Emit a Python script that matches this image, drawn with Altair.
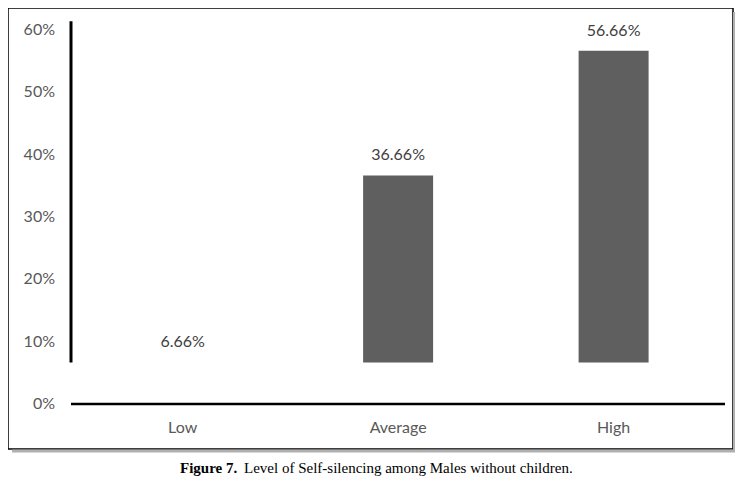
import altair as alt
import pandas as pd

categories = ["Low", "Average", "High"]
positions = [0, 1, 2]
values = [0.0666, 0.3666, 0.5666]
value_labels = ["6.66%", "36.66%", "56.66%"]
tick_values = [0.0, 0.1, 0.2, 0.3, 0.4, 0.5, 0.6]
tick_labels = ["0%", "10%", "20%", "30%", "40%", "50%", "60%"]
baseline = 0.0666
axis_top = 0.614
caption_bold = "Figure 7."
caption_text = "Level of Self-silencing among Males without children."

bars = pd.DataFrame({"cat": categories, "pos": positions, "value": values,
                     "label": value_labels, "base": [baseline] * len(categories)})
ticks = pd.DataFrame({"v": tick_values, "t": tick_labels})

FONT = "Lato"
W, H = 725, 441
xscale = alt.Scale(domain=[-0.7872, 2.5309], nice=False, zero=False)
yscale = alt.Scale(domain=[-0.07219, 0.63529], nice=False, zero=False)

x_enc = alt.X("pos:Q", scale=xscale, axis=None)

bar_layer = alt.Chart(bars).mark_bar(size=70, color="#5f5f5f").encode(
    x=x_enc,
    y=alt.Y("value:Q", scale=yscale, axis=None),
    y2="base:Q",
)

val_text = alt.Chart(bars).mark_text(font=FONT, fontSize=16, color="#404040",
                                     baseline="middle", dy=-20).encode(
    x=x_enc, y=alt.Y("value:Q", scale=yscale, axis=None), text="label:N")

cat_text = alt.Chart(bars).mark_text(font=FONT, fontSize=16, color="#595959",
                                     baseline="middle").encode(
    x=x_enc, y=alt.value(420), text="cat:N")

tick_text = alt.Chart(ticks).mark_text(font=FONT, fontSize=16, color="#595959",
                                       align="right", baseline="middle").encode(
    x=alt.value(47), y=alt.Y("v:Q", scale=yscale, axis=None), text="t:N")

yaxis_rule = alt.Chart(pd.DataFrame({"a": [baseline], "b": [axis_top]})).mark_rule(
    color="black", strokeWidth=3).encode(
    x=alt.value(63), y=alt.Y("a:Q", scale=yscale, axis=None), y2="b:Q")

xaxis_rule = alt.Chart(pd.DataFrame({"a": [0.0]})).mark_rule(
    color="black", strokeWidth=2.5).encode(
    x=alt.value(63), x2=alt.value(717), y=alt.Y("a:Q", scale=yscale, axis=None))

shadow_r = alt.Chart(pd.DataFrame({"a": [0]})).mark_rule(
    color="#b0b0b0", strokeWidth=2).encode(
    x=alt.value(726), y=alt.value(4), y2=alt.value(444))
shadow_b = alt.Chart(pd.DataFrame({"a": [0]})).mark_rule(
    color="#b0b0b0", strokeWidth=3).encode(
    x=alt.value(4), x2=alt.value(727), y=alt.value(443))

cap1 = alt.Chart(pd.DataFrame({"t": [caption_bold]})).mark_text(
    font="Liberation Serif", fontSize=15, fontWeight="bold", color="black",
    align="left", baseline="middle").encode(
    x=alt.value(172), y=alt.value(460), text="t:N")
cap2 = alt.Chart(pd.DataFrame({"t": [caption_text]})).mark_text(
    font="Liberation Serif", fontSize=15, color="black",
    align="left", baseline="middle").encode(
    x=alt.value(236), y=alt.value(460), text="t:N")

chart = alt.layer(shadow_r, shadow_b, bar_layer, yaxis_rule, xaxis_rule,
                  val_text, cat_text, tick_text, cap1, cap2).properties(
    width=W, height=H,
    autosize=alt.AutoSizeParams(type="none"),
    padding={"left": 0, "top": 0, "right": 2, "bottom": 28},
    background="white",
).configure_view(stroke="black", strokeWidth=1.5, fill="white")

chart.save("out.html", embed_options={"renderer": "svg", "actions": False})
